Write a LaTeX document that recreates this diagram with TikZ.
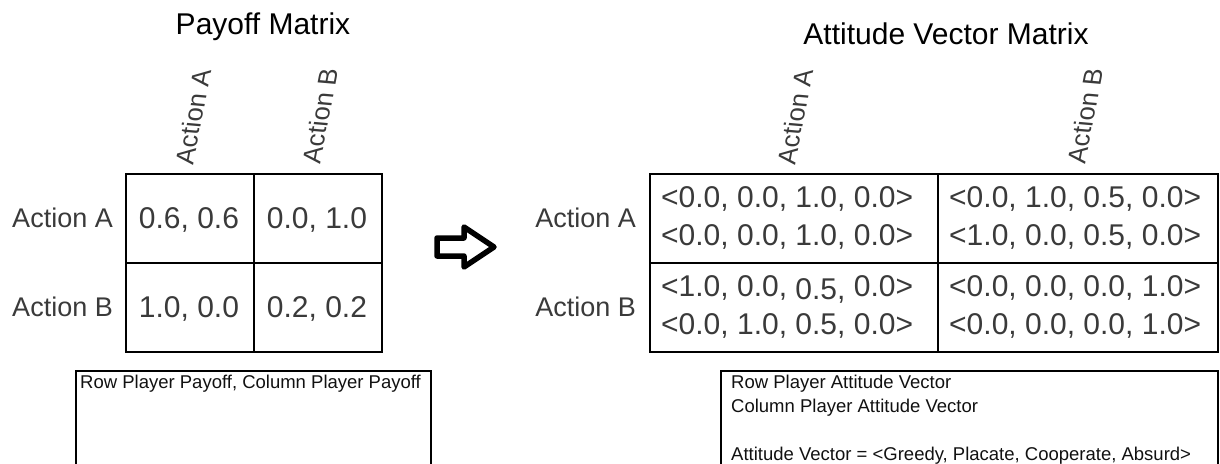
\documentclass[tikz,border=0pt]{standalone}
\usepackage{fontspec}
\setmainfont{Liberation Sans}
\usepackage{xcolor}
\usepackage{tikz}
\definecolor{ink}{HTML}{000000}
\definecolor{cell}{HTML}{3A3A3A}
\definecolor{note}{HTML}{111111}
\tikzset{
  grid/.style={draw=ink, line width=2.8pt, line cap=rect, line join=miter},
  legbox/.style={draw=ink, line width=1.3pt},
  blockarr/.style={draw=ink, line width=5.5pt, line join=round, line cap=round},
  ttl/.style={text=ink, font=\fontsize{30}{36}\selectfont, inner sep=0pt, anchor=base},
  lab/.style={text=cell, font=\fontsize{27}{32}\selectfont, inner sep=0pt},
  rowl/.style={lab, anchor=base east},
  coll/.style={lab, font=\fontsize{26}{32}\selectfont, cm={0.19,0.98,-0.996,0.087,(0,0)}},
  val/.style={text=cell, font=\fontsize{30}{36}\selectfont, inner sep=0pt, anchor=base},
  vec/.style={text=cell, font=\fontsize{30}{37.5}\selectfont, inner sep=0pt, align=left, anchor=west},
  leg/.style={text=note, font=\fontsize{18.5}{24}\selectfont, inner sep=0pt, align=left, anchor=north west}
}

\begin{document}
\begin{tikzpicture}[x=1pt,y=-1pt]
  \useasboundingbox (0,0) rectangle (1220,463);
  % payoff matrix
  \node[ttl] (ptitle) at (263,34) {Payoff Matrix};
  \node[coll] (pcolA) at (193,117) {Action A};
  \node[coll] (pcolB) at (320,116) {Action B};
  \node[rowl] (prowA) at (113,227) {Action A};
  \node[rowl] (prowB) at (113,316) {Action B};
  \draw[grid] (126,174) rectangle (382,352);
  \draw[grid] (254,174) -- (254,352);
  \draw[grid] (126,263) -- (382,263);
  \node[val] (p11) at (189,228) {0.6, 0.6};
  \node[val] (p12) at (317,228) {0.0, 1.0};
  \node[val] (p21) at (189,317) {1.0, 0.0};
  \node[val] (p22) at (317,317) {0.2, 0.2};
  \draw[legbox] (76,475) -- (76,371) -- (431,371) -- (431,475);
  \node[leg] (pleg) at (80,375) {Row Player Payoff, Column Player Payoff};
  % arrow
  \draw[blockarr] (437,238) -- (464,238) -- (464,227) -- (494,247) -- (464,267)
    -- (464,256) -- (437,256) -- cycle;
  % attitude vector matrix
  \node[ttl] (atitle) at (946,44) {Attitude Vector Matrix};
  \node[coll] (acolA) at (795,117) {Action A};
  \node[coll] (acolB) at (1085,116) {Action B};
  \node[rowl] (arowA) at (636,227) {Action A};
  \node[rowl] (arowB) at (636,316) {Action B};
  \draw[grid] (650,174) rectangle (1218,352);
  \draw[grid] (938,174) -- (938,352);
  \draw[grid] (650,263) -- (1218,263);
  \node[vec] (a11) at (661,218) {<0.0, 0.0, 1.0, 0.0>\\<0.0, 0.0, 1.0, 0.0>};
  \node[vec] (a12) at (949,218) {<0.0, 1.0, 0.5, 0.0>\\<1.0, 0.0, 0.5, 0.0>};
  \node[vec] (a21) at (661,307) {<1.0, 0.0, \raisebox{-3pt}{0.5,} 0.0>\\<0.0, 1.0, 0.5, 0.0>};
  \node[vec] (a22) at (949,307) {<0.0, 0.0, 0.0, 1.0>\\<0.0, 0.0, 0.0, 1.0>};
  \draw[legbox] (721,475) -- (721,371) -- (1218,371) -- (1218,475);
  \node[leg] (aleg) at (731,375) {Row Player Attitude Vector\\Column Player Attitude Vector\\[24pt]Attitude Vector = <Greedy, Placate, Cooperate, Absurd>};
\end{tikzpicture}
\end{document}
